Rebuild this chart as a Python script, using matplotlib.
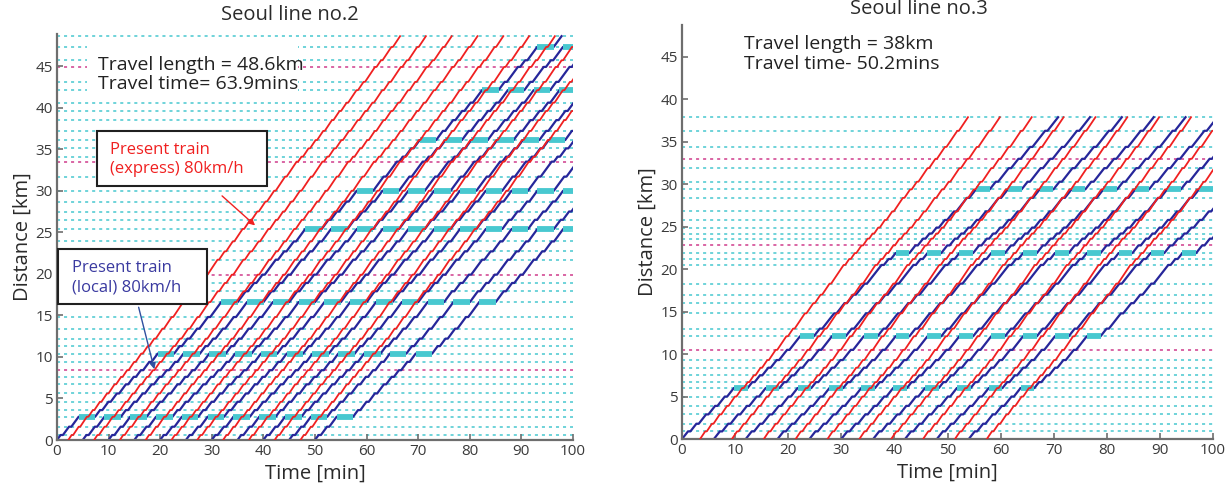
import matplotlib
matplotlib.use("Agg")
import matplotlib.pyplot as plt
from matplotlib.patches import Rectangle

# station positions along each line [km]
L2_STATIONS = [0.0, 0.6, 1.6, 2.8, 3.6, 4.6, 5.6, 6.7, 7.6, 8.4, 9.4, 10.4,
               11.3, 12.2, 13.4, 14.8, 16.6, 17.9, 18.9, 19.9, 21.7, 22.7,
               23.9, 25.4, 26.5, 27.5, 28.7, 30.0, 31.7, 33.5, 34.1, 35.1,
               36.1, 37.2, 38.5, 39.6, 40.6, 42.1, 43.1, 44.9, 45.7, 47.3, 48.6]
L2_MAJOR = [8.4, 19.9, 33.5, 44.9]          # magenta dotted
L2_WAIT = [2.8, 10.4, 16.6, 25.4, 30.0, 36.1, 42.1, 47.3]  # local waits

L3_STATIONS = [0.0, 0.9, 1.8, 2.9, 3.9, 5.0, 6.0, 6.7, 7.5, 8.4, 9.3, 10.5,
               12.1, 13.0, 14.8, 16.0, 17.0, 18.3, 20.5, 21.2, 21.9, 22.8,
               23.6, 24.2, 24.9, 25.8, 26.8, 28.4, 29.4, 30.3, 31.9, 33.0,
               34.4, 36.3, 37.9]
L3_MAJOR = [10.5, 22.8, 33.0]
L3_WAIT = [6.0, 12.1, 21.9, 29.4]

# departures [min]
L2_EXPRESS_DEP = [2.2, 7.2, 12.2, 17.2, 22.2, 27.2, 32.2, 37.2, 42.2, 47.2]
L2_LOCAL_DEP = [0, 5, 10, 15, 20, 25, 30, 35, 40, 45, 50]
L3_EXPRESS_DEP = [3.4, 9.4, 15.4, 21.4, 27.4, 33.4, 39.4, 45.4, 51.4, 57.4]
L3_LOCAL_DEP = [0, 6, 12, 18, 24, 30, 36, 42, 48, 54]

# running parameters [min/km], dwell and wait [min]
L2_EXPRESS_RUN, L2_LOCAL_RUN, L2_WAIT_MIN = 1.07, 1.18, 3.2
L3_EXPRESS_RUN, L3_LOCAL_RUN, L3_WAIT_MIN = 1.07, 1.25, 2.6
DWELL_EXPRESS, DWELL_LOCAL = 0.3, 0.45

RED = "#f02020"
BLUE = "#26269a"
CYAN = "#48c8d0"
MAGENTA = "#d03c8c"
FONT = "Open Sans"


def run_train(t0, stations, run, dwell, waits=(), wait_min=0.0):
    ts, xs, stops = [t0], [stations[0]], []
    t = t0
    for i in range(1, len(stations)):
        t += (stations[i] - stations[i - 1]) * run
        ts.append(t)
        xs.append(stations[i])
        if i == len(stations) - 1:
            break
        d = dwell
        if stations[i] in waits:
            stops.append((t, t + wait_min, stations[i]))
            d = wait_min
        t += d
        ts.append(t)
        xs.append(stations[i])
    return ts, xs, stops


def draw_line(ax, stations, major, waits, exp_dep, loc_dep,
              exp_run, loc_run, wait_min):
    for s in stations[1:]:
        c = MAGENTA if s in major else CYAN
        ax.axhline(s, color=c, lw=1.1, ls=(0, (2, 2.6)), zorder=1)
    for t0 in loc_dep:
        ts, xs, stops = run_train(t0, stations, loc_run, DWELL_LOCAL,
                                  waits, wait_min)
        ax.plot(ts, xs, color=BLUE, lw=1.6, zorder=2)
        for a, b, s in stops:
            ax.plot([a, b], [s, s], color=CYAN, lw=4.2,
                    solid_capstyle="butt", zorder=3)
    for t0 in exp_dep:
        ts, xs, _ = run_train(t0, stations, exp_run, DWELL_EXPRESS)
        ax.plot(ts, xs, color=RED, lw=1.3, zorder=4)


def style(ax, top):
    ax.set_xlim(0, 100)
    ax.set_ylim(0, top)
    ax.set_xticks(range(0, 101, 10))
    ax.set_yticks(range(0, 46, 5))
    for side in ("top", "right"):
        ax.spines[side].set_visible(False)
    for side in ("left", "bottom"):
        ax.spines[side].set_color("#6e6e6e")
        ax.spines[side].set_linewidth(1.6)
    ax.tick_params(direction="in", length=4, width=1.2, color="#6e6e6e",
                   labelsize=11, labelcolor="#3a3a3a", pad=3)
    for lab in ax.get_xticklabels() + ax.get_yticklabels():
        lab.set_family(FONT)
    ax.set_xlabel("Time [min]", fontsize=14.5, family=FONT, color="#2a2a2a",
                  labelpad=3)
    ax.set_ylabel("Distance [km]", fontsize=14.5, family=FONT,
                  color="#2a2a2a", labelpad=2)


fig = plt.figure(figsize=(12.3, 4.93), dpi=100)
ax1 = fig.add_axes([0.0463, 0.1075, 0.4195, 0.8235])
ax2 = fig.add_axes([0.5545, 0.1095, 0.4317, 0.8398])

draw_line(ax1, L2_STATIONS, L2_MAJOR, L2_WAIT, L2_EXPRESS_DEP, L2_LOCAL_DEP,
          L2_EXPRESS_RUN, L2_LOCAL_RUN, L2_WAIT_MIN)
draw_line(ax2, L3_STATIONS, L3_MAJOR, L3_WAIT, L3_EXPRESS_DEP, L3_LOCAL_DEP,
          L3_EXPRESS_RUN, L3_LOCAL_RUN, L3_WAIT_MIN)
style(ax1, 48.86)
style(ax2, 48.76)

# travel summaries
ax1.add_patch(Rectangle((5.8, 41.4), 41.0, 6.8, fc="white", ec="none",
                        zorder=5))
ax1.text(7.9, 44.0, "Travel length = 48.6km\nTravel time= 63.9mins",
         fontsize=14, family=FONT, color="#222222", linespacing=1.12,
         va="center", zorder=6)
ax2.text(11.7, 45.35, "Travel length = 38km\nTravel time- 50.2mins",
         fontsize=14, family=FONT, color="#222222", linespacing=1.12,
         va="center", zorder=6)

# callouts
ax1.annotate("", xy=(38.8, 25.6), xytext=(31.6, 29.6),
             arrowprops=dict(arrowstyle="-|>", color=RED, lw=1.0,
                             mutation_scale=9), zorder=7)
ax1.add_patch(Rectangle((7.75, 30.6), 32.95, 6.6, fc="white", ec="#202020",
                        lw=1.5, zorder=8))
ax1.text(10.3, 33.8, "Present train\n(express) 80km/h", fontsize=12,
         family=FONT, color=RED, va="center", linespacing=1.25, zorder=9)
ax1.annotate("", xy=(19.0, 8.2), xytext=(15.7, 16.3),
             arrowprops=dict(arrowstyle="-|>", color="#3050a0", lw=1.0,
                             mutation_scale=9), zorder=7)
ax1.add_patch(Rectangle((0.2, 16.4), 28.9, 6.6, fc="white", ec="#202020",
                        lw=1.5, zorder=8))
ax1.text(2.9, 19.55, "Present train\n(local) 80km/h", fontsize=12,
         family=FONT, color="#3a3aa0", va="center", linespacing=1.25,
         zorder=9)

fig.text(290 / 1230, 1 - 15 / 493, "Seoul line no.2", fontsize=14.5,
         family=FONT, color="#2a2a2a", ha="center", va="center")
fig.text(919 / 1230, 1 - 9 / 493, "Seoul line no.3", fontsize=14.5,
         family=FONT, color="#2a2a2a", ha="center", va="center")

fig.savefig("out.png", dpi=100)
